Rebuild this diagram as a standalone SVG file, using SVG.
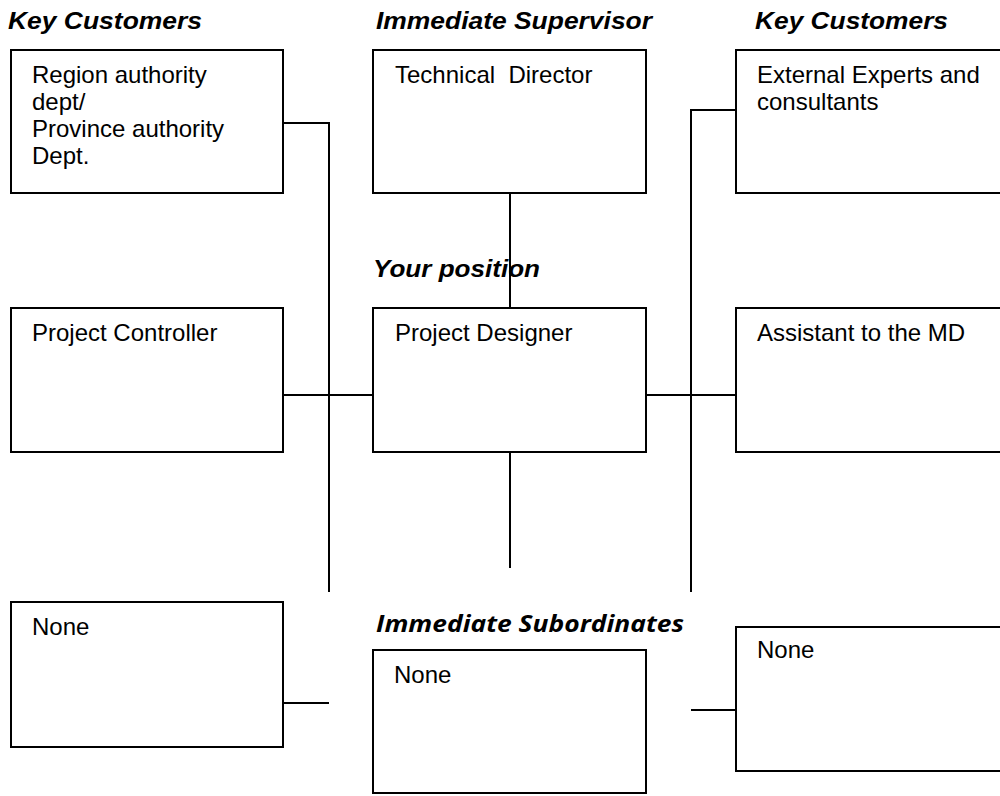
<svg xmlns="http://www.w3.org/2000/svg" width="1000" height="796" viewBox="0 0 1000 796">
<style>
.box{fill:#fff;stroke:#000;stroke-width:2}
.t{font-family:"Liberation Sans",Arial,sans-serif;font-size:24px;fill:#000}
.h{font-family:"Liberation Sans",Arial,sans-serif;font-size:24px;font-weight:bold;font-style:italic;fill:#000}
.h2{font-family:"Open Sans","DejaVu Sans",sans-serif;font-size:23px;font-weight:bold;font-style:italic;fill:#000}
.c{fill:none;stroke:#000;stroke-width:2}
</style>
<rect width="1000" height="796" fill="#fff"/>
<g id="headings">
<text class="h" x="8" y="29" textLength="194" lengthAdjust="spacingAndGlyphs">Key Customers</text>
<text class="h" x="376" y="29" textLength="276" lengthAdjust="spacingAndGlyphs">Immediate Supervisor</text>
<text class="h" x="755" y="29" textLength="193" lengthAdjust="spacingAndGlyphs">Key Customers</text>
<text class="h" x="373" y="277" textLength="167" lengthAdjust="spacingAndGlyphs">Your position</text>
<text class="h2" x="376" y="632" textLength="308" lengthAdjust="spacingAndGlyphs">Immediate Subordinates</text>
</g>
<g id="connectors">
<polyline class="c" points="283,123 329,123 329,592"/>
<line class="c" x1="283" y1="395" x2="373" y2="395"/>
<line class="c" x1="510" y1="193" x2="510" y2="308"/>
<line class="c" x1="510" y1="452" x2="510" y2="568"/>
<polyline class="c" points="736,110 691,110 691,592"/>
<line class="c" x1="646" y1="395" x2="736" y2="395"/>
<line class="c" x1="283" y1="703" x2="329" y2="703"/>
<line class="c" x1="691" y1="710" x2="736" y2="710"/>
</g>
<g id="region-authority">
<rect class="box" x="11" y="50" width="272" height="143"/>
<text class="t" x="32" y="83">Region authority</text>
<text class="t" x="32" y="110">dept/</text>
<text class="t" x="32" y="137">Province authority</text>
<text class="t" x="32" y="164">Dept.</text>
</g>
<g id="technical-director">
<rect class="box" x="373" y="50" width="273" height="143"/>
<text class="t" x="395" y="83" xml:space="preserve">Technical  Director</text>
</g>
<g id="external-experts">
<rect class="box" x="736" y="50" width="300" height="143"/>
<text class="t" x="757" y="83">External Experts and</text>
<text class="t" x="757" y="110">consultants</text>
</g>
<g id="project-controller">
<rect class="box" x="11" y="308" width="272" height="144"/>
<text class="t" x="32" y="341">Project Controller</text>
</g>
<g id="project-designer">
<rect class="box" x="373" y="308" width="273" height="144"/>
<text class="t" x="395" y="341">Project Designer</text>
</g>
<g id="assistant-md">
<rect class="box" x="736" y="308" width="300" height="144"/>
<text class="t" x="757" y="341">Assistant to the MD</text>
</g>
<g id="none-left">
<rect class="box" x="11" y="602" width="272" height="145"/>
<text class="t" x="32" y="635">None</text>
</g>
<g id="none-center">
<rect class="box" x="373" y="650" width="273" height="143"/>
<text class="t" x="394" y="683">None</text>
</g>
<g id="none-right">
<rect class="box" x="736" y="627" width="300" height="144"/>
<text class="t" x="757" y="658">None</text>
</g>
</svg>
